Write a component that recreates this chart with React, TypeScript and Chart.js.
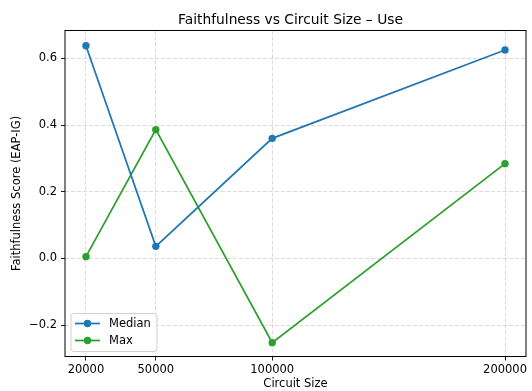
import React, { useEffect, useRef } from "react";
import { Chart, registerables } from "chart.js";

Chart.register(...registerables);

const circuitSizes = [20000, 50000, 100000, 200000];
const medianValues = [0.638, 0.036, 0.36, 0.625];
const maxValues = [0.005, 0.386, -0.253, 0.284];
const xTickValues = [20000, 50000, 100000, 200000];
const yTickValues = [-0.2, 0.0, 0.2, 0.4, 0.6];

const TITLE = "Faithfulness vs Circuit Size \u2013 Use";
const FONT = "'DejaVu Sans', sans-serif";
const BLUE = "#1f77b4";
const GREEN = "#2ca02c";

const framePlugin = {
  id: "frame",
  afterDraw(chart: any) {
    const { ctx, chartArea } = chart;
    const { left, right, top, bottom } = chartArea;
    ctx.save();
    ctx.strokeStyle = "#000";
    ctx.lineWidth = 1;
    ctx.strokeRect(left, top, right - left, bottom - top);

    // title
    ctx.fillStyle = "#000";
    ctx.font = `13.8px ${FONT}`;
    ctx.textAlign = "center";
    ctx.textBaseline = "alphabetic";
    ctx.fillText(TITLE, (left + right) / 2 - 5, 23.5);

    // legend
    const lx = left + 6;
    const ly = bottom - 43;
    const lw = 86;
    const lh = 38;
    const r = 3;
    ctx.beginPath();
    ctx.moveTo(lx + r, ly);
    ctx.lineTo(lx + lw - r, ly);
    ctx.quadraticCurveTo(lx + lw, ly, lx + lw, ly + r);
    ctx.lineTo(lx + lw, ly + lh - r);
    ctx.quadraticCurveTo(lx + lw, ly + lh, lx + lw - r, ly + lh);
    ctx.lineTo(lx + r, ly + lh);
    ctx.quadraticCurveTo(lx, ly + lh, lx, ly + lh - r);
    ctx.lineTo(lx, ly + r);
    ctx.quadraticCurveTo(lx, ly, lx + r, ly);
    ctx.closePath();
    ctx.fillStyle = "rgba(255,255,255,0.8)";
    ctx.fill();
    ctx.strokeStyle = "#d0d0d0";
    ctx.lineWidth = 1;
    ctx.stroke();

    const entries = [
      { label: "Median", color: BLUE },
      { label: "Max", color: GREEN },
    ];
    entries.forEach((e, i) => {
      const y = ly + 10 + i * 17;
      ctx.strokeStyle = e.color;
      ctx.lineWidth = 1.75;
      ctx.beginPath();
      ctx.moveTo(lx + 4, y);
      ctx.lineTo(lx + 29, y);
      ctx.stroke();
      ctx.fillStyle = e.color;
      ctx.beginPath();
      ctx.arc(lx + 16.5, y, 3.7, 0, Math.PI * 2);
      ctx.fill();
      ctx.fillStyle = "#000";
      ctx.font = `11.5px ${FONT}`;
      ctx.textAlign = "left";
      ctx.textBaseline = "middle";
      ctx.fillText(e.label, lx + 38, y + 0.5);
    });
    ctx.restore();
  },
};

export default function App() {
  const ref = useRef<HTMLCanvasElement | null>(null);

  useEffect(() => {
    document.body.style.margin = "0";
    const canvas = ref.current;
    if (!canvas) return;
    const gridOpts: any = {
      color: "rgba(176,176,176,0.5)",
      lineWidth: 0.9,
      tickLength: 4,
      tickColor: "#000",
      tickBorderDash: [],
      tickWidth: 0.9,
    };
    const chart = new Chart(canvas, {
      type: "line",
      data: {
        datasets: [
          {
            label: "Median",
            data: circuitSizes.map((x, i) => ({ x, y: medianValues[i] })),
            borderColor: BLUE,
            backgroundColor: BLUE,
            borderWidth: 1.75,
            pointRadius: 3.7,
            pointHoverRadius: 3.7,
            pointBorderWidth: 0,
            tension: 0,
          },
          {
            label: "Max",
            data: circuitSizes.map((x, i) => ({ x, y: maxValues[i] })),
            borderColor: GREEN,
            backgroundColor: GREEN,
            borderWidth: 1.75,
            pointRadius: 3.7,
            pointHoverRadius: 3.7,
            pointBorderWidth: 0,
            tension: 0,
          },
        ],
      },
      options: {
        responsive: false,
        animation: false,
        layout: { padding: { top: 30.5, right: 6, left: 0, bottom: 0 } },
        plugins: {
          legend: { display: false },
          title: { display: false },
          tooltip: { enabled: false },
        },
        scales: {
          x: {
            type: "linear",
            min: 11000,
            max: 209000,
            afterBuildTicks: (scale: any) => {
              scale.ticks = xTickValues.map((v) => ({ value: v }));
            },
            afterFit: (scale: any) => {
              scale.height = 34.5;
            },
            ticks: {
              callback: (v: any) => String(v),
              font: { family: FONT, size: 11.5 },
              color: "#000",
              padding: 3,
              maxRotation: 0,
              autoSkip: false,
            },
            grid: gridOpts,
            border: { display: false, dash: [4, 2] },
            title: {
              display: true,
              text: "Circuit Size",
              font: { family: FONT, size: 11.5 },
              color: "#000",
              padding: { top: 0, bottom: 0 },
            },
          },
          y: {
            type: "linear",
            min: -0.2945,
            max: 0.6835,
            afterBuildTicks: (scale: any) => {
              scale.ticks = yTickValues.map((v) => ({ value: v }));
            },
            afterFit: (scale: any) => {
              scale.width = 65;
            },
            ticks: {
              callback: (v: any) => Number(v).toFixed(1).replace("-", "\u2212"),
              font: { family: FONT, size: 11.5 },
              color: "#000",
              padding: 4,
              autoSkip: false,
            },
            grid: gridOpts,
            border: { display: false, dash: [4, 2] },
            title: {
              display: true,
              text: "Faithfulness Score (EAP-IG)",
              font: { family: FONT, size: 11.5 },
              color: "#000",
              padding: { top: 10, bottom: 0 },
            },
          },
        },
      },
      plugins: [framePlugin],
    } as any);
    return () => chart.destroy();
  }, []);

  return <canvas ref={ref} width={532} height={391} style={{ display: "block" }} />;
}
